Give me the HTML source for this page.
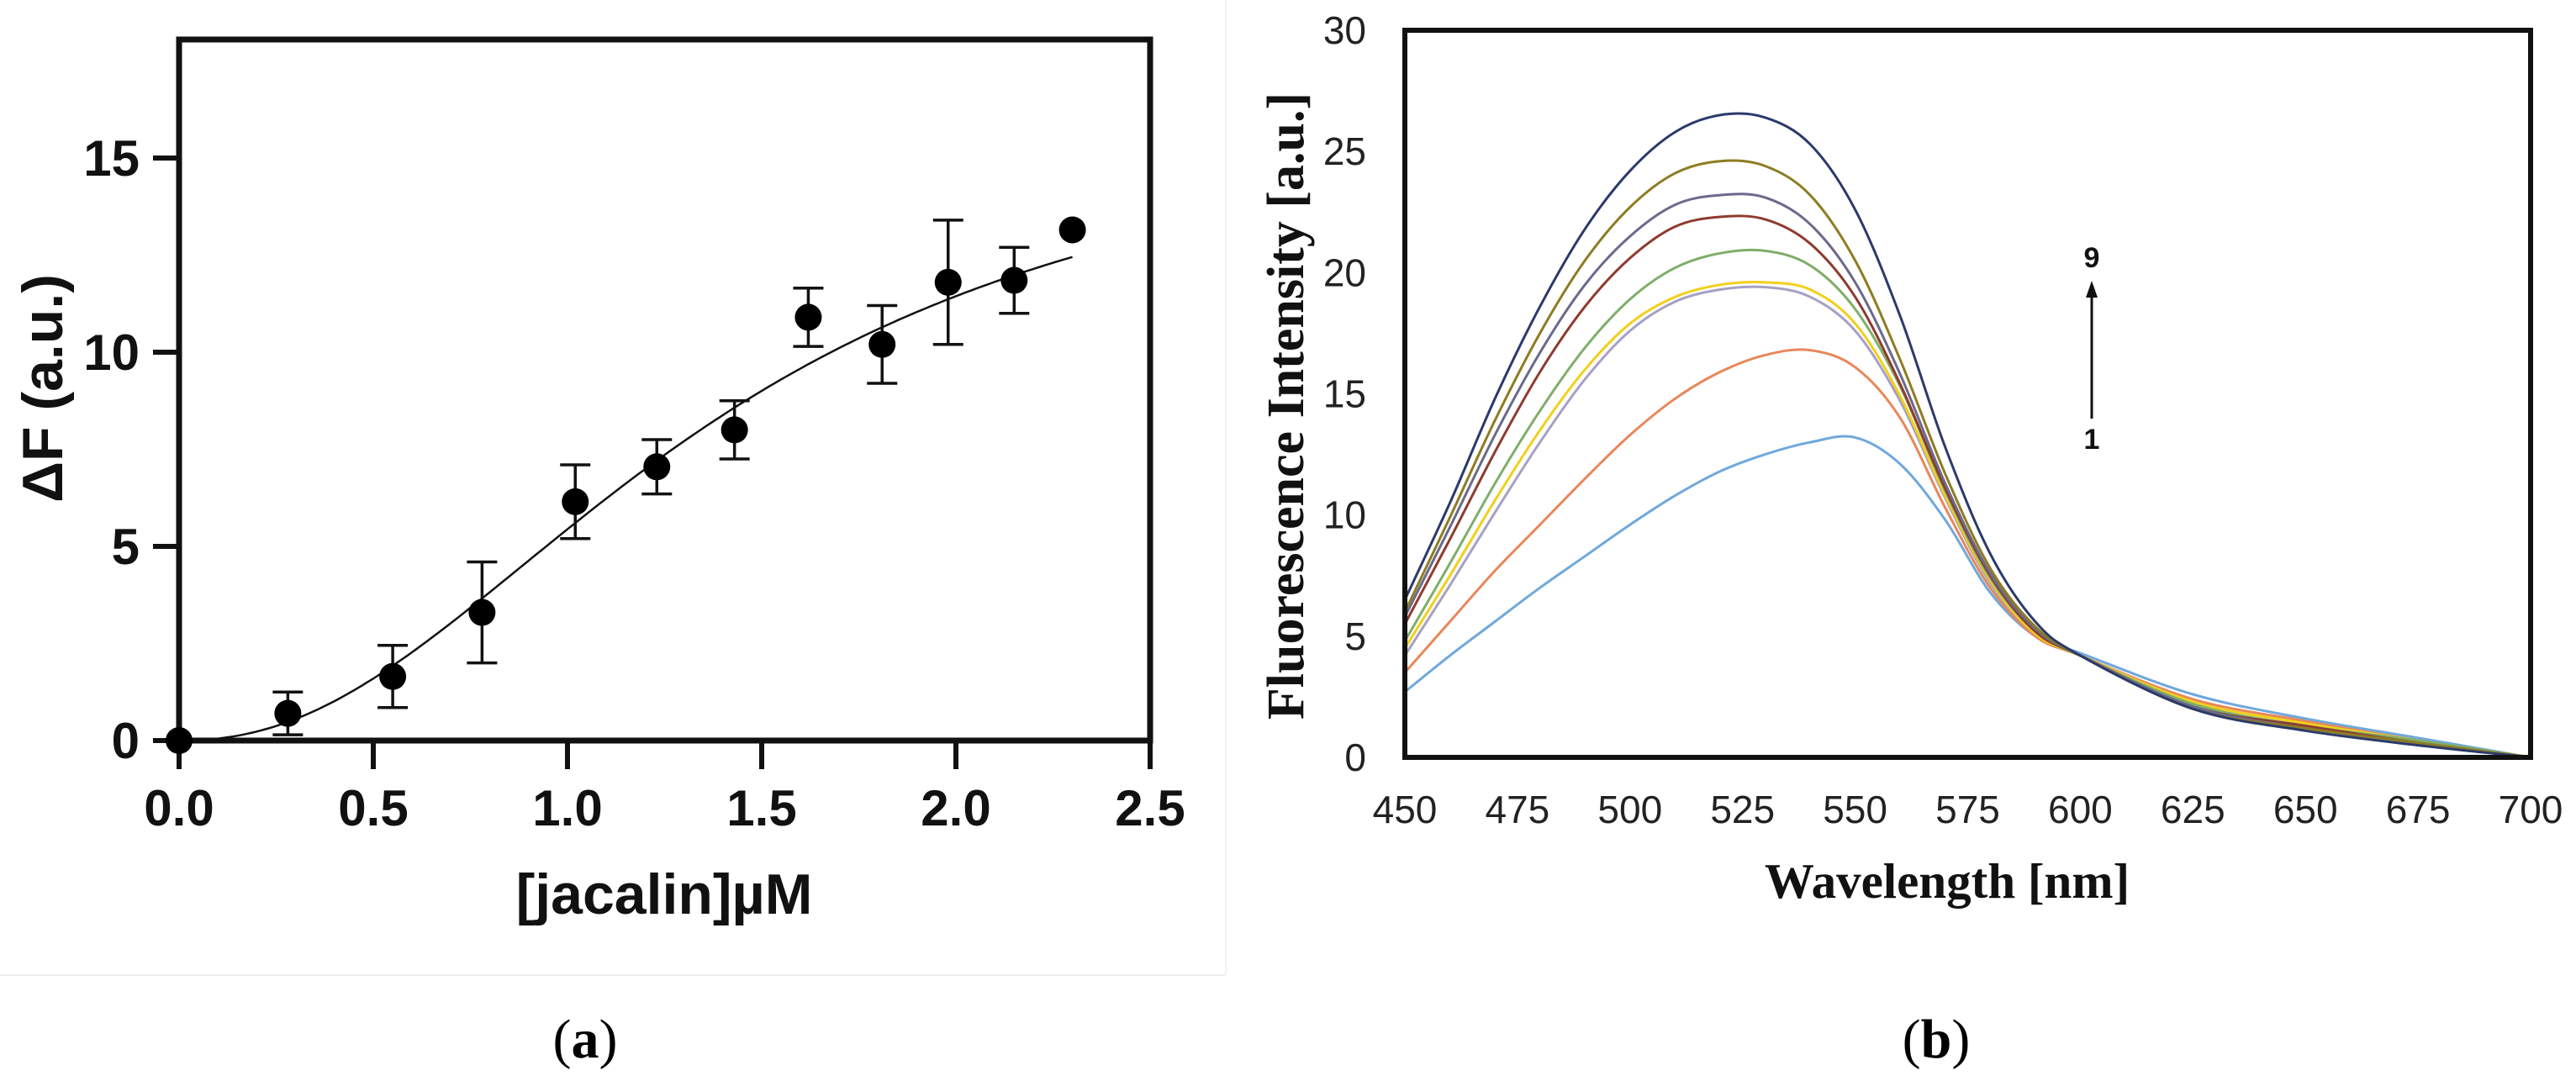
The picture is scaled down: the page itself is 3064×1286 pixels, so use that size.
<!DOCTYPE html>
<html><head><meta charset="utf-8"><style>
html,body{margin:0;padding:0;background:#fff;}
svg{display:block;}
</style></head><body>
<svg id="fig" width="3064" height="1286" viewBox="0 0 3064 1286" xmlns="http://www.w3.org/2000/svg">
<rect x="0" y="0" width="3064" height="1286" fill="#fff"/>
<line x1="0" y1="1160" x2="1458" y2="1160" stroke="#eee" stroke-width="2"/>
<line x1="1458" y1="0" x2="1458" y2="1160" stroke="#f3f3f3" stroke-width="2"/>
<g id="panelA"></g>
<g id="panelB"></g>
<text x="696" y="1258" font-family="Liberation Serif, serif" font-size="66" text-anchor="middle">(<tspan font-weight="bold">a</tspan>)</text>
<text x="2303" y="1258" font-family="Liberation Serif, serif" font-size="66" text-anchor="middle">(<tspan font-weight="bold">b</tspan>)</text>
</svg>
<script>
// ---------- Panel A data ----------
const concX = [0, 0.28, 0.55, 0.78, 1.02, 1.23, 1.43, 1.62, 1.81, 1.98, 2.15, 2.30];
const deltaF = [0, 0.7, 1.65, 3.3, 6.15, 7.05, 8.0, 10.9, 10.2, 11.8, 11.85, 13.15];
const deltaErr = [0, 0.55, 0.8, 1.3, 0.95, 0.7, 0.75, 0.75, 1.0, 1.6, 0.85, 0];
const fitBmax = 16.5, fitK = 1.38, fitN = 2.2;
const aXTicks = ["0.0","0.5","1.0","1.5","2.0","2.5"];
const aYTicks = ["0","5","10","15"];

// ---------- Panel B data ----------
const wavelengths = [450,460,470,480,490,500,510,520,530,540,550,560,570,580,590,600,625,650,675,700];
const spec1 = [2.7,4.2,5.6,7.0,8.3,9.6,10.8,11.8,12.5,13.0,13.2,12.1,9.8,6.8,5.0,4.3,2.6,1.6,0.8,0];
const spec2 = [3.5,5.6,7.7,9.6,11.5,13.3,14.8,15.9,16.6,16.8,16.1,14.0,10.3,7.0,5.0,4.2,2.4,1.5,0.7,0];
const spec3 = [4.2,7.1,10.1,13.0,15.6,17.6,18.8,19.3,19.4,19.0,17.6,14.7,10.7,7.2,5.1,4.2,2.3,1.4,0.7,0];
const spec4 = [4.5,7.5,10.6,13.5,16.0,17.9,19.0,19.5,19.6,19.3,17.9,14.9,10.8,7.3,5.1,4.2,2.3,1.4,0.7,0];
const spec5 = [4.8,8.0,11.3,14.3,16.9,18.9,20.2,20.8,20.9,20.3,18.5,15.3,11.0,7.4,5.2,4.2,2.2,1.3,0.7,0];
const spec6 = [5.5,9.0,12.6,15.9,18.6,20.6,21.9,22.3,22.2,21.2,19.0,15.4,11.1,7.5,5.2,4.2,2.1,1.3,0.6,0];
const spec7 = [5.8,9.5,13.3,16.7,19.5,21.5,22.8,23.2,23.1,22.0,19.6,15.8,11.3,7.6,5.3,4.2,2.1,1.2,0.6,0];
const spec8 = [6.0,9.9,13.9,17.5,20.5,22.7,24.1,24.6,24.4,23.2,20.5,16.4,11.7,7.8,5.4,4.2,2.0,1.2,0.6,0];
const spec9 = [6.5,10.5,14.8,18.6,21.8,24.2,25.8,26.5,26.4,25.3,22.6,18.2,12.8,8.4,5.6,4.2,2.0,1.1,0.5,0];
const spectra = [spec1,spec2,spec3,spec4,spec5,spec6,spec7,spec8,spec9];
const bXTicks = ["450","475","500","525","550","575","600","625","650","675","700"];
const bYTicks = ["0","5","10","15","20","25","30"];

const NS = "http://www.w3.org/2000/svg";
function mk(tag, attrs, parent){const e=document.createElementNS(NS,tag);for(const k in attrs)e.setAttribute(k,attrs[k]);parent.appendChild(e);return e;}

// ---------- Panel A ----------
const A = document.getElementById('panelA');
const aL=213, aR=1368, aT=47, aB=881;
const ax = v => aL + v/2.5*(aR-aL);
const ay = v => aB - v*46.2;
const fontA = '"Liberation Sans Narrow","Liberation Sans",sans-serif';
let r = mk('rect',{x:aL,y:aT,width:aR-aL,height:aB-aT,fill:'none',stroke:'#111','stroke-width':7},A);


aXTicks.forEach(t=>{
  const x=ax(parseFloat(t));
  const l=mk('line',{x1:x,y1:aB,x2:x,y2:aB+34,stroke:'#111','stroke-width':6},A);
  
  
  const tx=mk('text',{x:x,y:aB+101,'font-family':fontA,'font-weight':'bold','font-size':60,'text-anchor':'middle',fill:'#111'},A);
  tx.textContent=t;
  
  
});
aYTicks.forEach(t=>{
  const y=ay(parseFloat(t));
  const l=mk('line',{x1:aL-31,y1:y,x2:aL,y2:y,stroke:'#111','stroke-width':6},A);
  
  
  const tx=mk('text',{x:166,y:y+21,'font-family':fontA,'font-weight':'bold','font-size':60,'text-anchor':'end',fill:'#111'},A);
  tx.textContent=t;
  
  
});
let xt=mk('text',{x:790,y:1087,'font-family':fontA,'font-weight':'bold','font-size':68,'text-anchor':'middle',fill:'#111'},A);
xt.textContent='[jacalin]µM';


let yt=mk('text',{x:0,y:0,'font-family':fontA,'font-weight':'bold','font-size':68,'text-anchor':'middle',fill:'#111',transform:'translate(74,462) rotate(-90)'},A);
yt.textContent='ΔF (a.u.)';


let d='';
for(let i=0;i<=200;i++){const x=2.3*i/200;const y=fitBmax*Math.pow(x,fitN)/(Math.pow(fitK,fitN)+Math.pow(x,fitN));d+=(i?'L':'M')+ax(x).toFixed(1)+','+ay(y).toFixed(1);}
let fit=mk('path',{d:d,fill:'none',stroke:'#111','stroke-width':2.5},A);


concX.forEach((c,i)=>{
  const x=ax(c),y=ay(deltaF[i]),e=deltaErr[i];
  if(e>0){
    const eb=mk('path',{d:`M${x},${ay(deltaF[i]+e)}L${x},${ay(deltaF[i]-e)}M${x-18},${ay(deltaF[i]+e)}L${x+18},${ay(deltaF[i]+e)}M${x-18},${ay(deltaF[i]-e)}L${x+18},${ay(deltaF[i]-e)}`,stroke:'#111','stroke-width':3.5,fill:'none'},A);
    
    
  }
  const p=mk('circle',{cx:x,cy:y,r:16,fill:'#000'},A);
  
  
});

// ---------- Panel B ----------
const B=document.getElementById('panelB');
const bL=1671, bR=3010, bT=36, bB=901;
const bx = w => bL + (w-450)/250*(bR-bL);
const by = v => bB - v/30*(bB-bT);
const fontB = '"Liberation Sans Narrow","Liberation Sans",sans-serif';
const colors=['#6fa8dc','#e8875a','#a7a0c4','#f2cf1a','#7fae6a','#8e3b2f','#6b6a8c','#8e7c22','#2b3a6b'];
spectra.forEach((s,k)=>{
  const pts=wavelengths.map((w,i)=>[bx(w),by(s[i])]);
  let p='M'+pts[0][0]+','+pts[0][1];
  for(let i=0;i<pts.length-1;i++){
    const p0=pts[Math.max(0,i-1)],p1=pts[i],p2=pts[i+1],p3=pts[Math.min(pts.length-1,i+2)];
    const c1=[p1[0]+(p2[0]-p0[0])/6,p1[1]+(p2[1]-p0[1])/6];
    const c2=[p2[0]-(p3[0]-p1[0])/6,p2[1]-(p3[1]-p1[1])/6];
    p+=`C${c1[0].toFixed(1)},${c1[1].toFixed(1)} ${c2[0].toFixed(1)},${c2[1].toFixed(1)} ${p2[0].toFixed(1)},${p2[1].toFixed(1)}`;
  }
  const path=mk('path',{d:p,fill:'none',stroke:colors[k],'stroke-width':3},B);
  
  
});
let rb=mk('rect',{x:bL,y:bT,width:bR-bL,height:bB-bT,fill:'none',stroke:'#111','stroke-width':6},B);


bXTicks.forEach(t=>{
  const tx=mk('text',{x:bx(parseFloat(t)),y:979,'font-family':fontB,'font-size':46,'text-anchor':'middle',fill:'#222'},B);
  tx.textContent=t;
  
  
});
bYTicks.forEach(t=>{
  const tx=mk('text',{x:1625,y:by(parseFloat(t))+16,'font-family':fontB,'font-size':46,'text-anchor':'end',fill:'#222'},B);
  tx.textContent=t;
  
  
});
let xtb=mk('text',{x:2316,y:1068,'font-family':'"Liberation Serif",serif','font-weight':'bold','font-size':59,'text-anchor':'middle',fill:'#111'},B);
xtb.textContent='Wavelength [nm]';


let ytb=mk('text',{x:0,y:0,'font-family':'"Liberation Serif",serif','font-weight':'bold','font-size':62,'text-anchor':'middle',fill:'#111',transform:'translate(1550,483) rotate(-90)'},B);
ytb.textContent='Fluorescence Intensity [a.u.]';


let arr=mk('path',{d:'M2488,498L2488,350',stroke:'#111','stroke-width':3,fill:'none'},B);


let ah=mk('path',{d:'M2488,334L2481,354L2495,354Z',fill:'#111'},B);


let l9=mk('text',{x:2488,y:318,'font-family':fontB,'font-weight':'bold','font-size':34,'text-anchor':'middle',fill:'#111'},B);
l9.textContent='9';


let l1=mk('text',{x:2488,y:534,'font-family':fontB,'font-weight':'bold','font-size':34,'text-anchor':'middle',fill:'#111'},B);
l1.textContent='1';


</script>
</body></html>
